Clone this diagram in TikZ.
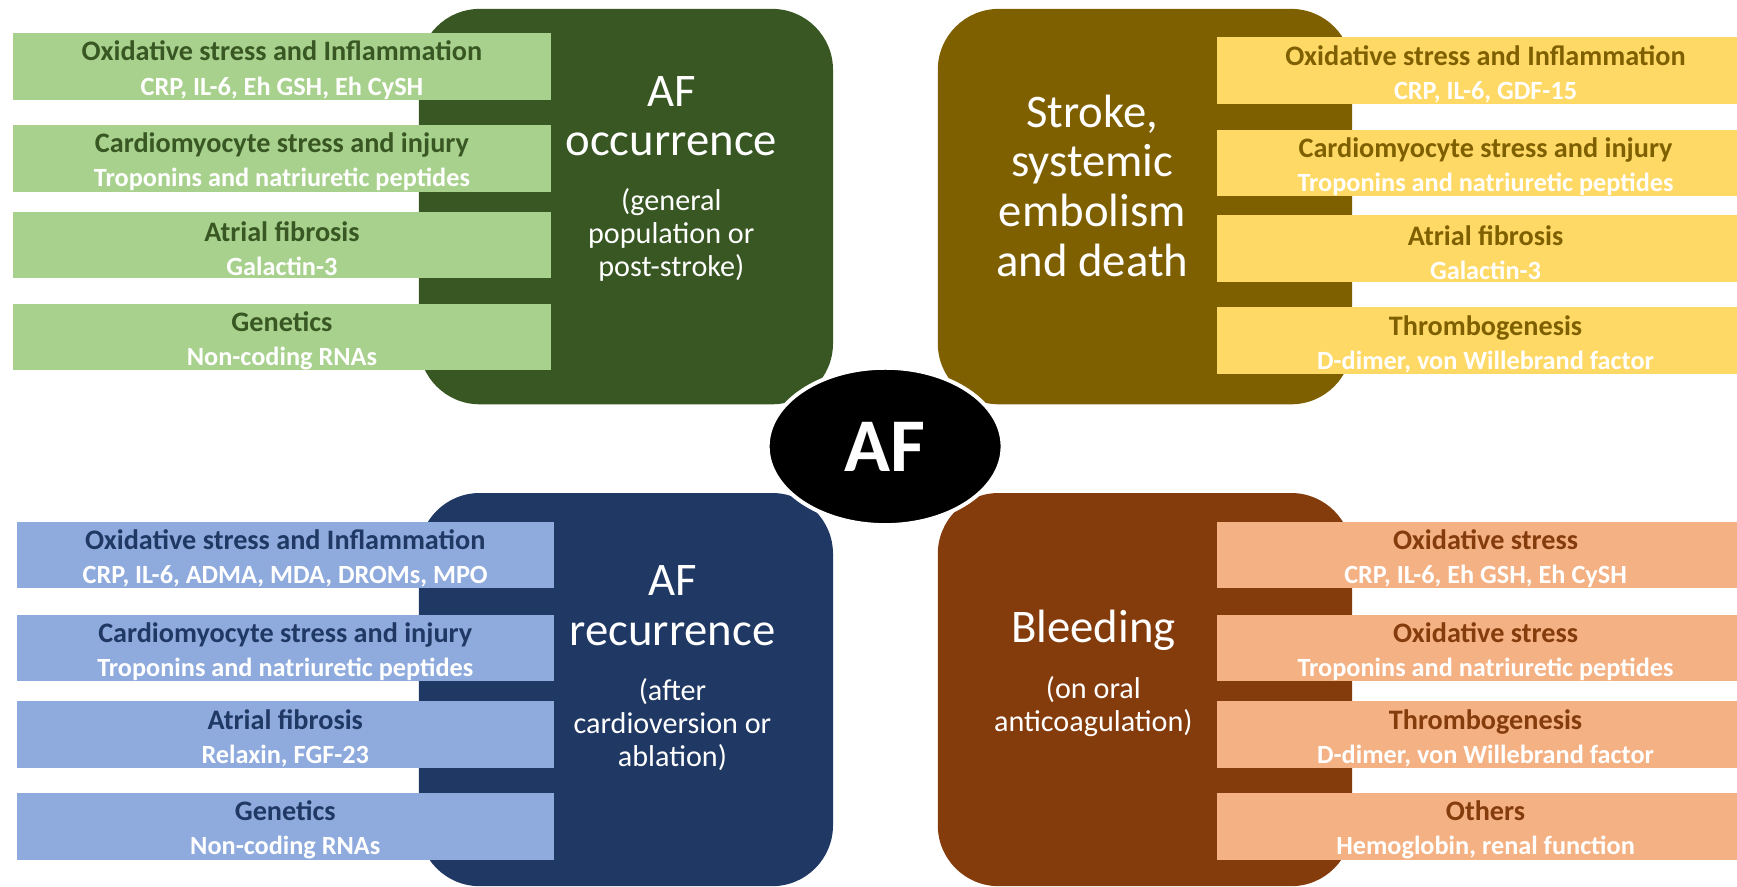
\documentclass[tikz,border=0pt]{standalone}
\usepackage{fontspec}
\setmainfont{Carlito}
\usepackage{xcolor}
\usepackage{tikz}
\usetikzlibrary{shapes.geometric}
\definecolor{occdark}{RGB}{56,87,35}
\definecolor{occlight}{RGB}{169,209,142}
\definecolor{strdark}{RGB}{127,96,0}
\definecolor{strlight}{RGB}{255,217,102}
\definecolor{recdark}{RGB}{32,56,100}
\definecolor{reclight}{RGB}{143,170,220}
\definecolor{bleddark}{RGB}{132,60,12}
\definecolor{bledlight}{RGB}{244,177,131}
\tikzstyle{quad} =[rectangle, rounded corners=1.1cm, minimum width=7.48cm, minimum height=7.14cm, inner sep=0pt]
\tikzstyle{bar} =[rectangle, minimum width=9.7cm, minimum height=1.2cm, inner sep=0pt, align=center, font=\fontsize{14.5}{17.5}\selectfont\bfseries]
\tikzstyle{big} =[text=white, align=center, font=\fontsize{24}{25.5}\selectfont]
\tikzstyle{small} =[text=white, align=center, font=\fontsize{15.5}{17}\selectfont]
\newcommand{\bartext}[2]{\rule{0pt}{14pt}#1\\{\fontsize{13.5}{17.5}\selectfont\color{white}#2}}

\begin{document}
\begin{tikzpicture}[x=0.02cm, y=-0.02cm]
		\useasboundingbox (0,0) rectangle (1568,800);
		% four outcome boxes
		\node (occ)[quad, fill=occdark] at (565,186.5) {};
		\node (str)[quad, fill=strdark] at (1033.5,186.5) {};
		\node (rec)[quad, fill=recdark, minimum height=7.1cm] at (565,622.5) {};
		\node (bled)[quad, fill=bleddark, minimum height=7.1cm] at (1033.5,622.5) {};
		% AF occurrence
		\node (occ1)[bar, fill=occlight, text=occdark] at (254.5,60) {\bartext{Oxidative stress and Inflammation}{CRP, IL-6, Eh GSH, Eh CySH}};
		\node (occ2)[bar, fill=occlight, text=occdark] at (254.5,143) {\bartext{Cardiomyocyte stress and injury}{Troponins and natriuretic peptides}};
		\node (occ3)[bar, fill=occlight, text=occdark] at (254.5,221) {\bartext{Atrial fibrosis}{Galactin-3}};
		\node (occ4)[bar, fill=occlight, text=occdark] at (254.5,304) {\bartext{Genetics}{Non-coding RNAs}};
		\node (occt)[big] at (606,105) {AF\\occurrence};
		\node (occs)[small] at (606,212) {(general\\population or\\post-stroke)};
		% stroke
		\node (str1)[bar, fill=strlight, text=strdark] at (1341,63.5) {\bartext{Oxidative stress and Inflammation}{CRP, IL-6, GDF-15}};
		\node (str2)[bar, fill=strlight, text=strdark] at (1341,147) {\bartext{Cardiomyocyte stress and injury}{Troponins and natriuretic peptides}};
		\node (str3)[bar, fill=strlight, text=strdark] at (1341,224.5) {\bartext{Atrial fibrosis}{Galactin-3}};
		\node (str4)[bar, fill=strlight, text=strdark] at (1341,307.5) {\bartext{Thrombogenesis}{D-dimer, von Willebrand factor}};
		\node (strt)[big] at (986,167.5) {Stroke,\\systemic\\embolism\\and death};
		% AF recurrence
		\node (rec1)[bar, fill=reclight, text=recdark] at (257.5,501) {\bartext{Oxidative stress and Inflammation}{CRP, IL-6, ADMA, MDA, DROMs, MPO}};
		\node (rec2)[bar, fill=reclight, text=recdark] at (257.5,585) {\bartext{Cardiomyocyte stress and injury}{Troponins and natriuretic peptides}};
		\node (rec3)[bar, fill=reclight, text=recdark] at (257.5,663) {\bartext{Atrial fibrosis}{Relaxin, FGF-23}};
		\node (rec4)[bar, fill=reclight, text=recdark] at (257.5,746) {\bartext{Genetics}{Non-coding RNAs}};
		\node (rect)[big] at (607,547) {AF\\recurrence};
		\node (recs)[small] at (607,654) {(after\\cardioversion or\\ablation)};
		% bleeding
		\node (bled1)[bar, fill=bledlight, text=bleddark] at (1341,501) {\bartext{Oxidative stress}{CRP, IL-6, Eh GSH, Eh CySH}};
		\node (bled2)[bar, fill=bledlight, text=bleddark] at (1341,585) {\bartext{Oxidative stress}{Troponins and natriuretic peptides}};
		\node (bled3)[bar, fill=bledlight, text=bleddark] at (1341,663) {\bartext{Thrombogenesis}{D-dimer, von Willebrand factor}};
		\node (bled4)[bar, fill=bledlight, text=bleddark] at (1341,746) {\bartext{Others}{Hemoglobin, renal function}};
		\node (bledt)[big] at (987,569) {Bleeding};
		\node (bleds)[small] at (987,638) {(on oral\\anticoagulation)};
		% centre
		\node (af)[ellipse, fill=black, draw=white, line width=2pt, minimum width=4.24cm, minimum height=2.84cm, text=white, font=\fontsize{39}{40}\selectfont\bfseries] at (799,403) {AF};
\end{tikzpicture}
\end{document}
